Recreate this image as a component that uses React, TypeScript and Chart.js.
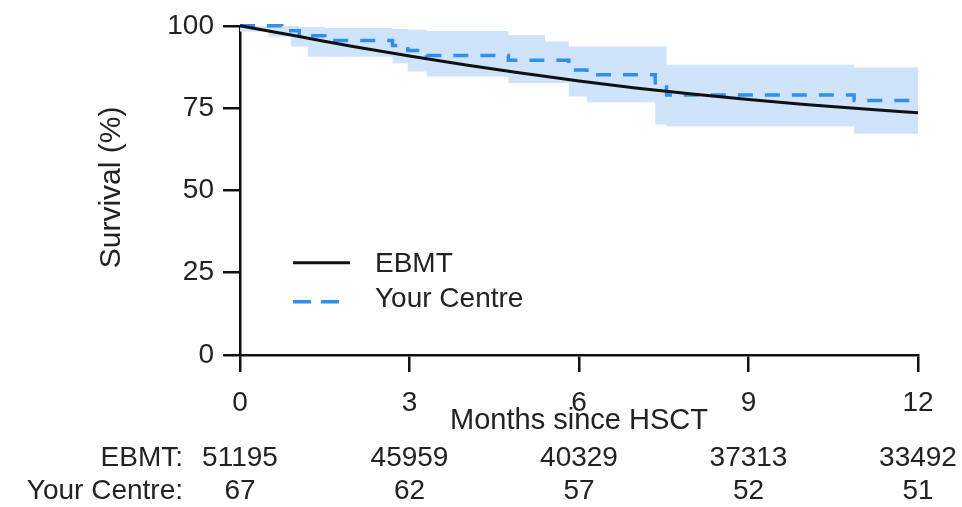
import React, { useEffect, useRef } from "react";
import { Chart, registerables } from "chart.js";

Chart.register(...registerables);

// ---------- data ----------
const ebmtMonths = [0, 1, 2, 3, 4, 5, 6, 7, 8, 9, 10, 11, 12];
const ebmtSurvival = [100, 96.9, 93.7, 90.8, 88.1, 85.6, 83.2, 81.1, 79.3, 77.6, 76.1, 74.8, 73.6];

const centreTimes = [0, 0.5, 0.74, 0.9, 1.05, 1.2, 1.5, 2.7, 2.97, 3.3, 4.75, 5.4, 5.82, 6.14, 7.35, 7.55, 10.87, 12];
const centreSurvival = [100, 100, 98.5, 98.5, 97.0, 97.0, 95.5, 94.0, 92.5, 91.0, 89.5, 89.5, 86.6, 85.1, 82.1, 79.0, 77.3, 77.3];
const centreUpper = [100, 100, 100, 100, 99.6, 99.6, 99.3, 99.0, 98.8, 98.4, 97.2, 95.2, 93.7, 93.7, 93.7, 88.2, 87.3, 87.3];
const centreLower = [98.3, 96.7, 96.7, 93.7, 93.7, 90.6, 90.6, 88.6, 86.1, 84.6, 82.6, 82.6, 78.5, 76.8, 70.0, 69.5, 67.2, 67.2];

const xTicks = [0, 3, 6, 9, 12];
const yTicks = [0, 25, 50, 75, 100];

const riskMonths = [0, 3, 6, 9, 12];
const riskRowLabels = ["EBMT:", "Your Centre:"];
const riskEbmt = [51195, 45959, 40329, 37313, 33492];
const riskCentre = [67, 62, 57, 52, 51];

const seriesLabels = ["EBMT", "Your Centre"];
const xTitle = "Months since HSCT";
const yTitle = "Survival (%)";

// ---------- styles ----------
const FONT_FAMILY = "'Liberation Sans', Arial, sans-serif";
const FONT_SIZE = 28;
const TEXT_COLOR = "#222";
const AXIS_COLOR = "#111";
const EBMT_COLOR = "#111";
const CENTRE_COLOR = "#2f8ef0";
const BAND_COLOR = "#cfe4fb";
const CENTRE_DASH = [15, 12];

const toPoints = (xs: number[], ys: number[]) => xs.map((x, i) => ({ x, y: ys[i] }));

const textPlugin = {
  id: "kmText",
  afterDraw(chart: any) {
    const { ctx, chartArea, scales } = chart;
    const xs = scales.x;
    ctx.save();
    ctx.fillStyle = TEXT_COLOR;
    ctx.textBaseline = "middle";

    // x title
    ctx.font = `29px ${FONT_FAMILY}`;
    ctx.textAlign = "center";
    ctx.fillText(xTitle, (chartArea.left + chartArea.right) / 2, chartArea.bottom + 66);

    // y title
    ctx.save();
    ctx.font = `30px ${FONT_FAMILY}`;
    ctx.translate(chartArea.left - 128, (chartArea.top + chartArea.bottom) / 2 - 3);
    ctx.rotate(-Math.PI / 2);
    ctx.textAlign = "center";
    ctx.fillText(yTitle, 0, 0);
    ctx.restore();

    // numbers at risk
    ctx.font = `${FONT_SIZE}px ${FONT_FAMILY}`;
    const rows = [riskEbmt, riskCentre];
    rows.forEach((row, r) => {
      const y = chartArea.bottom + 103 + r * 33;
      ctx.textAlign = "right";
      ctx.fillText(riskRowLabels[r], chartArea.left - 57, y);
      ctx.textAlign = "center";
      row.forEach((n, i) => {
        ctx.fillText(String(n), xs.getPixelForValue(riskMonths[i]), y);
      });
    });

    // legend
    const lx = chartArea.left + 53;
    const ly1 = chartArea.top + 237;
    const ly2 = chartArea.top + 276;
    ctx.lineWidth = 3;
    ctx.strokeStyle = EBMT_COLOR;
    ctx.beginPath();
    ctx.moveTo(lx, ly1);
    ctx.lineTo(lx + 57, ly1);
    ctx.stroke();
    ctx.strokeStyle = CENTRE_COLOR;
    ctx.lineWidth = 3.5;
    ctx.setLineDash([18, 10]);
    ctx.beginPath();
    ctx.moveTo(lx, ly2);
    ctx.lineTo(lx + 46, ly2);
    ctx.stroke();
    ctx.setLineDash([]);
    ctx.textAlign = "left";
    ctx.fillText(seriesLabels[0], lx + 82, ly1 + 1);
    ctx.fillText(seriesLabels[1], lx + 82, ly2 - 3);
    ctx.restore();
  },
};

export default function App() {
  const canvasRef = useRef<HTMLCanvasElement | null>(null);

  useEffect(() => {
    if (!canvasRef.current) return;
    Chart.defaults.font.family = FONT_FAMILY;
    const tickFont = { size: FONT_SIZE, family: FONT_FAMILY };
    const chart = new Chart(canvasRef.current, {
      type: "line",
      data: {
        datasets: [
          {
            label: seriesLabels[0],
            data: toPoints(ebmtMonths, ebmtSurvival),
            borderColor: EBMT_COLOR,
            borderWidth: 3,
            pointRadius: 0,
            cubicInterpolationMode: "monotone",
            fill: false,
            clip: 10,
            order: 0,
          },
          {
            label: seriesLabels[1],
            data: toPoints(centreTimes, centreSurvival),
            borderColor: CENTRE_COLOR,
            borderWidth: 3.5,
            borderDash: CENTRE_DASH,
            pointRadius: 0,
            stepped: true,
            fill: false,
            clip: 10,
            order: 1,
          },
          {
            label: "upper",
            data: toPoints(centreTimes, centreUpper),
            borderWidth: 0,
            borderColor: "rgba(0,0,0,0)",
            backgroundColor: BAND_COLOR,
            pointRadius: 0,
            stepped: true,
            fill: 3,
            clip: 10,
            order: 2,
          },
          {
            label: "lower",
            data: toPoints(centreTimes, centreLower),
            borderWidth: 0,
            borderColor: "rgba(0,0,0,0)",
            pointRadius: 0,
            stepped: true,
            fill: false,
            clip: 10,
            order: 3,
          },
        ] as any,
      },
      options: {
        responsive: false,
        animation: false,
        layout: { padding: { top: 24, right: 44, left: 0, bottom: 0 } },
        plugins: {
          legend: { display: false },
          tooltip: { enabled: false },
        },
        scales: {
          x: {
            type: "linear",
            min: 0,
            max: 12,
            afterBuildTicks: (s: any) => {
              s.ticks = xTicks.map((v) => ({ value: v }));
            },
            afterFit: (s: any) => {
              s.height = 152;
            },
            ticks: { font: tickFont, color: TEXT_COLOR, padding: 14, maxRotation: 0 },
            grid: {
              drawOnChartArea: false,
              drawTicks: true,
              tickLength: 17,
              color: AXIS_COLOR,
              lineWidth: 2.5,
            },
            border: { display: true, color: AXIS_COLOR, width: 2.5 },
          },
          y: {
            type: "linear",
            min: 0,
            max: 100,
            afterBuildTicks: (s: any) => {
              s.ticks = yTicks.map((v) => ({ value: v }));
            },
            afterFit: (s: any) => {
              s.width = 240;
            },
            ticks: { font: tickFont, color: TEXT_COLOR, padding: 9 },
            grid: {
              drawOnChartArea: false,
              drawTicks: true,
              tickLength: 17,
              color: AXIS_COLOR,
              lineWidth: 2.5,
            },
            border: { display: true, color: AXIS_COLOR, width: 2.5 },
          },
        },
      } as any,
      plugins: [textPlugin],
    });
    return () => chart.destroy();
  }, []);

  return (
    <div style={{ position: "absolute", left: 0, top: 0, width: 962, height: 507, background: "#fff" }}>
      <canvas ref={canvasRef} width={962} height={507} />
    </div>
  );
}
